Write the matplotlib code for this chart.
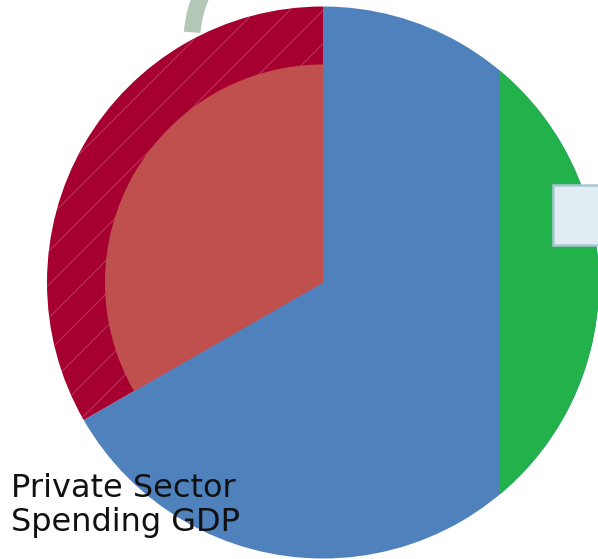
import matplotlib.pyplot as plt
from matplotlib.patches import Circle, Rectangle, Arc

plt.rcParams['hatch.linewidth'] = 0.7

# canvas in pixel units, y measured from the bottom
W, H = 598, 559

shares = [66.7, 33.3]          # private sector spending vs. the rest
share_colors = ['#4f81bd', '#a5002f']
inner_color = '#c0504d'
green = '#23b14b'
caption = ["Private Sector", "Spending GDP"]

cx, cy, R = 323, 276.5, 276

fig = plt.figure(figsize=(W / 100, H / 100), dpi=100)
ax = fig.add_axes([0, 0, 1, 1])

# outer pie
wedges, _ = ax.pie(shares, colors=share_colors, startangle=90, counterclock=False,
                   center=(cx, cy), radius=R, wedgeprops=dict(linewidth=0))
wedges[1].set_hatch('/')
wedges[1].set_edgecolor('#bc3a5a')

# smaller wedge inside the red slice
inner, _ = ax.pie(shares, colors=['none', inner_color], startangle=90, counterclock=False,
                  center=(cx, cy), radius=R * 0.79, wedgeprops=dict(linewidth=0))

# green segment on the right, cut by the circle outline
disk = Circle((cx, cy), R, transform=ax.transData)
seg = Rectangle((500, 0), W, H, facecolor=green, linewidth=0, zorder=3)
ax.add_patch(seg)
seg.set_clip_path(disk)

# pale box on the right edge
ax.add_patch(Rectangle((553, H - 245), 60, 60, facecolor='#e2ecf3',
                       edgecolor='#a9c6d6', linewidth=1.8, zorder=4))

# grey-green stroke at the top
arc = Arc((302, H - 40), 220, 220, theta1=146, theta2=176,
          color='#b3c7b7', linewidth=12, zorder=4)
arc.set_capstyle('butt')
ax.add_patch(arc)

for line, base in zip(caption, [H - 497, H - 531]):
    ax.text(11, base, line, fontsize=23, family='DejaVu Sans',
            color='#111111', va='baseline', ha='left', zorder=5)

ax.set_xlim(0, W)
ax.set_ylim(0, H)
ax.set_aspect('equal')
ax.axis('off')

fig.savefig('out.png', dpi=100)
